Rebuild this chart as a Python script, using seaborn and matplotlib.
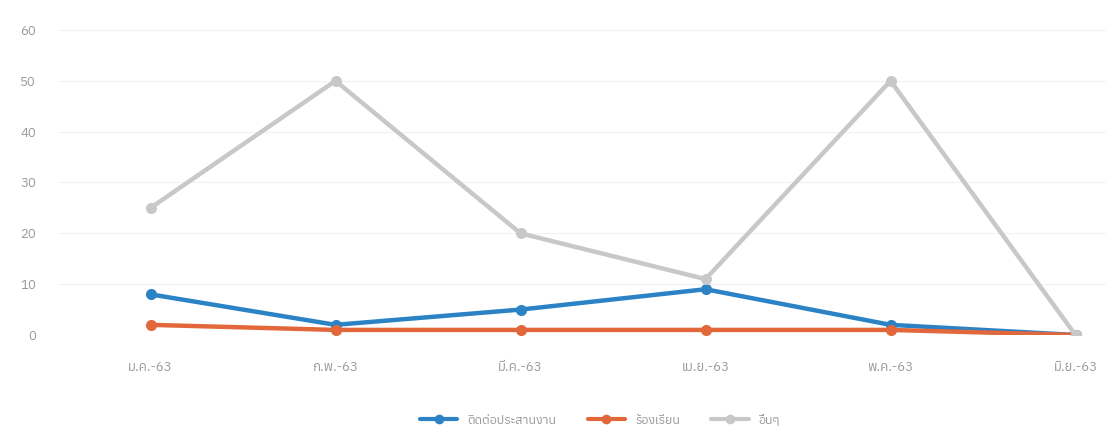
import matplotlib
matplotlib.use("Agg")
import matplotlib.pyplot as plt
import seaborn as sns
import pandas as pd
from matplotlib import font_manager as fm
from matplotlib.ft2font import FT2Font
from matplotlib.lines import Line2D

months = ["ม.ค.-63", "ก.พ.-63", "มี.ค.-63", "เม.ย.-63", "พ.ค.-63", "มิ.ย.-63"]
series_names = ["ติดต่อประสานงาน", "ร้องเรียน", "อื่นๆ"]
s_blue = [8, 2, 5, 9, 2, 0]
s_orange = [2, 1, 1, 1, 1, 0]
s_gray = [25, 50, 20, 11, 50, 0]
y_ticks = [0, 10, 20, 30, 40, 50, 60]

# fonts with Thai glyphs
thai = []
for f in fm.fontManager.ttflist:
    try:
        ft = FT2Font(f.fname)
        if 0x0E01 in ft.get_charmap():
            thai.append(f.name)
    except Exception:
        pass

sns.set_theme(style="white")
plt.rcParams["font.family"] = sorted(set(thai)) + ["DejaVu Sans"]

df = pd.DataFrame({
    "x": list(range(6)) * 3,
    "value": s_blue + s_orange + s_gray,
    "series": [series_names[0]] * 6 + [series_names[1]] * 6 + [series_names[2]] * 6,
})
palette = {series_names[0]: "#2b83c6", series_names[1]: "#e2683c", series_names[2]: "#c8c8c8"}

fig = plt.figure(figsize=(11.06, 4.30), dpi=100)
ax = fig.add_axes([58 / 1106, (430 - 335) / 430, 1 - 58 / 1106, (335 - 30) / 430])
sns.lineplot(data=df, x="x", y="value", hue="series", palette=palette, ax=ax,
             marker="o", markersize=8, markeredgewidth=0, linewidth=3.2, legend=False,
             hue_order=series_names)
ax.set_xlim(-0.5, -0.5 + 1048 / 185)
ax.set_ylim(0, 60)
ax.set_yticks(y_ticks)
ax.set_xticks(range(6))
ax.set_xticklabels(months)
ax.tick_params(axis="both", length=0, labelsize=9.5, colors="#9a9a9a")
ax.tick_params(axis="x", pad=19)
ax.tick_params(axis="y", pad=16)
ax.grid(axis="y", color="#f2f2f2", linewidth=0.8)
for s in ax.spines.values():
    s.set_visible(False)
ax.set_xlabel("")
ax.set_ylabel("")

handles = [Line2D([], [], color=palette[n], marker="o", markersize=7, linewidth=3, markeredgewidth=0)
           for n in series_names]
fig.legend(handles, series_names, loc="center", bbox_to_anchor=(600 / 1106, 1 - 420 / 430),
           ncol=3, frameon=False, fontsize=9, labelcolor="#9a9a9a", handlelength=3, columnspacing=2.5)
fig.savefig("out.png", dpi=100)
